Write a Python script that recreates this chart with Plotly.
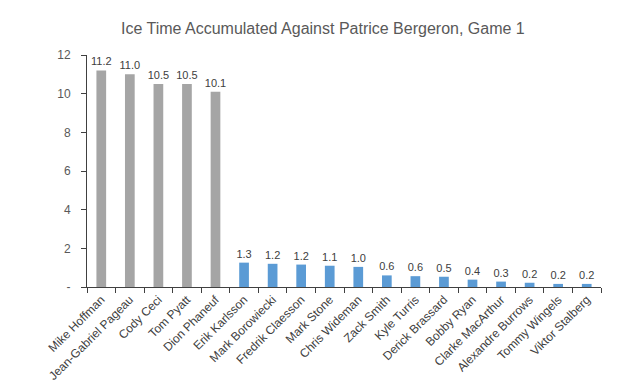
import plotly.graph_objects as go

players = ["Mike Hoffman", "Jean-Gabriel Pageau", "Cody Ceci", "Tom Pyatt", "Dion Phaneuf",
           "Erik Karlsson", "Mark Borowiecki", "Fredrik Claesson", "Mark Stone", "Chris Wideman",
           "Zack Smith", "Kyle Turris", "Derick Brassard", "Bobby Ryan", "Clarke MacArthur",
           "Alexandre Burrows", "Tommy Wingels", "Viktor Stalberg"]
ice_time = [11.2, 11.0, 10.5, 10.5, 10.1, 1.26, 1.2, 1.16, 1.1, 1.04,
            0.6, 0.56, 0.53, 0.38, 0.28, 0.22, 0.16, 0.16]
group = ["top"] * 5 + ["rest"] * 13
labels = [f"{v:.1f}" for v in [11.2, 11.0, 10.5, 10.5, 10.1, 1.3, 1.2, 1.2, 1.1, 1.0,
                                0.6, 0.6, 0.5, 0.4, 0.3, 0.2, 0.2, 0.2]]
y_ticks = [0, 2, 4, 6, 8, 10, 12]
y_tick_text = ["-", "2", "4", "6", "8", "10", "12"]

colors = ["#A5A5A5" if g == "top" else "#5B9BD5" for g in group]

FONT = "Liberation Sans"

fig = go.Figure(go.Bar(
    x=players, y=ice_time, marker_color=colors, marker_line_width=0,
    text=labels, textposition="outside", cliponaxis=False, constraintext="none",
    textfont=dict(family=FONT, size=11, color="#404040"),
))

fig.update_layout(
    width=626, height=387,
    margin=dict(l=79, r=33, t=47, b=108),
    paper_bgcolor="white", plot_bgcolor="white",
    bargap=0.66,
    showlegend=False,
    title=dict(text="Ice Time Accumulated Against Patrice Bergeron, Game 1",
               x=0.503, xanchor="center", y=0.948, yanchor="middle",
               font=dict(family=FONT, size=16, color="#595959")),
    font=dict(family=FONT, color="#595959"),
)
fig.update_xaxes(
    tickangle=-45, tickfont=dict(family=FONT, size=12, color="#404040"),
    showline=True, linecolor="#404040", linewidth=1,
    ticks="outside", ticklen=5, tickcolor="#404040", tickson="boundaries",
    showgrid=False,
)
fig.update_yaxes(
    range=[0, 12], tickvals=y_ticks, ticktext=y_tick_text,
    tickfont=dict(family=FONT, size=12, color="#595959"),
    showline=True, linecolor="#404040", linewidth=1,
    ticks="outside", ticklen=5, tickcolor="#404040", ticklabelstandoff=8,
    showgrid=False, zeroline=False,
)

fig.write_html("out.html")
